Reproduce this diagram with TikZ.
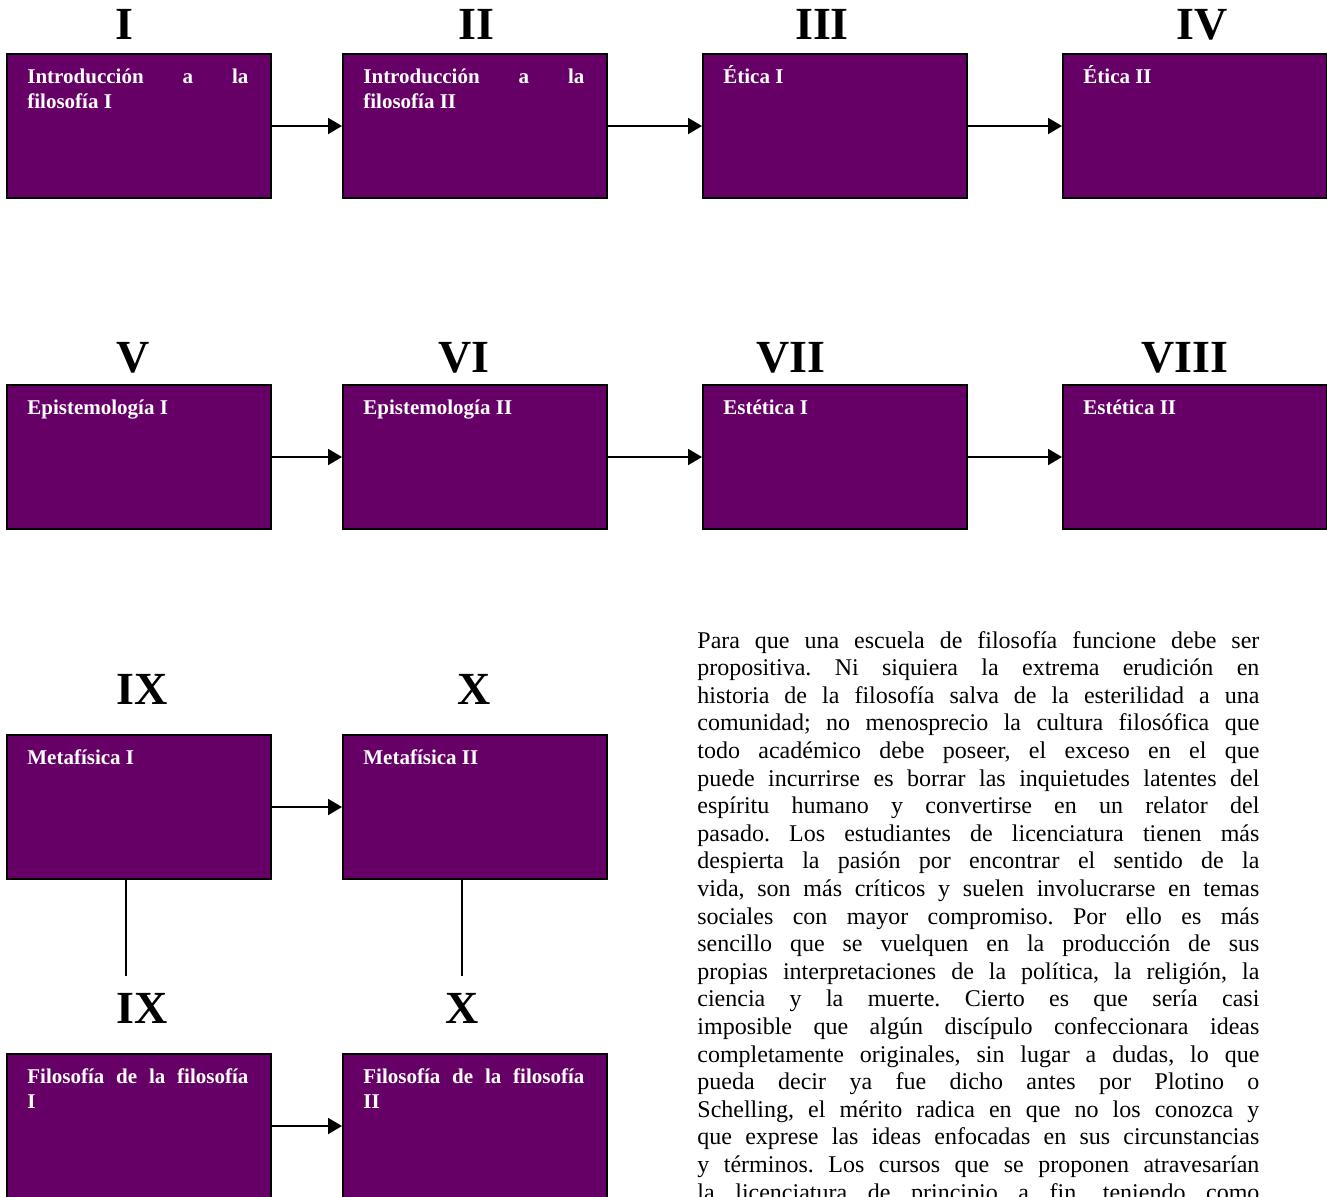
\documentclass[tikz,border=0pt]{standalone}
\usepackage{fontspec}
\setmainfont{Liberation Serif}
\usepackage{tikz}
\usetikzlibrary{arrows.meta, positioning, calc}
\frenchspacing
\definecolor{cursomorado}{RGB}{102, 0, 102}
\tikzset{
    curso/.style={rectangle, draw=black, line width=1pt, fill=cursomorado, minimum width=132pt, minimum height=72pt, inner sep=0pt, anchor=north west},
    rotulo/.style={text=white, font=\fontsize{10.5}{12.5}\selectfont\bfseries, text width=110.5pt, align=justify, inner sep=0pt, anchor=base west},
    numeral/.style={font=\fontsize{23}{26}\selectfont\bfseries, inner sep=0pt, anchor=base},
    flecha/.style={draw, -{Triangle[length=7pt, width=8pt]}, black, line width=1pt},
    linea/.style={draw, black, line width=1pt}
}

\begin{document}
\begin{tikzpicture}[x=0.5pt, y=-0.5pt]
        \useasboundingbox (0,0) rectangle (1327,1196);
        \clip (0,0) rectangle (1327,1196);

        % Semester numerals
        \node[numeral] (n1) at (124,39) {I};
        \node[numeral] (n2) at (476,39) {II};
        \node[numeral] (n3) at (822,39) {III};
        \node[numeral] (n4) at (1202,39) {IV};
        \node[numeral] (n5) at (133,372) {V};
        \node[numeral] (n6) at (464,372) {VI};
        \node[numeral] (n7) at (791,372) {VII};
        \node[numeral] (n8) at (1185,372) {VIII};
        \node[numeral] (n9) at (142,704) {IX};
        \node[numeral] (n10) at (474,704) {X};
        \node[numeral] (n11) at (142,1023) {IX};
        \node[numeral] (n12) at (462,1023) {X};

        % Course boxes
        \node[curso] (c1) at (6,53) {};
        \node[rotulo] (t1) at ([shift={(21,30)}]c1.north west) {Introducción a la\linebreak filosofía I};
        \node[curso] (c2) at (342,53) {};
        \node[rotulo] (t2) at ([shift={(21,30)}]c2.north west) {Introducción a la\linebreak filosofía II};
        \node[curso] (c3) at (702,53) {};
        \node[rotulo] (t3) at ([shift={(21,30)}]c3.north west) {Ética I};
        \node[curso] (c4) at (1062,53) {};
        \node[rotulo] (t4) at ([shift={(21,30)}]c4.north west) {Ética II};

        \node[curso] (c5) at (6,384) {};
        \node[rotulo] (t5) at ([shift={(21,30)}]c5.north west) {Epistemología I};
        \node[curso] (c6) at (342,384) {};
        \node[rotulo] (t6) at ([shift={(21,30)}]c6.north west) {Epistemología II};
        \node[curso] (c7) at (702,384) {};
        \node[rotulo] (t7) at ([shift={(21,30)}]c7.north west) {Estética I};
        \node[curso] (c8) at (1062,384) {};
        \node[rotulo] (t8) at ([shift={(21,30)}]c8.north west) {Estética II};

        \node[curso] (c9) at (6,734) {};
        \node[rotulo] (t9) at ([shift={(21,30)}]c9.north west) {Metafísica I};
        \node[curso] (c10) at (342,734) {};
        \node[rotulo] (t10) at ([shift={(21,30)}]c10.north west) {Metafísica II};

        \node[curso] (c11) at (6,1053) {};
        \node[rotulo] (t11) at ([shift={(21,30)}]c11.north west) {Filosofía de la filosofía\linebreak I};
        \node[curso] (c12) at (342,1053) {};
        \node[rotulo] (t12) at ([shift={(21,30)}]c12.north west) {Filosofía de la filosofía\linebreak II};

        % Arrows between semesters
        \draw[flecha] (c1) -- (c2);
        \draw[flecha] (c2) -- (c3);
        \draw[flecha] (c3) -- (c4);
        \draw[flecha] (c5) -- (c6);
        \draw[flecha] (c6) -- (c7);
        \draw[flecha] (c7) -- (c8);
        \draw[flecha] (c9) -- (c10);
        \draw[flecha] (c11) -- (c12);

        % Plain links down to the last row
        \coordinate (v9) at (126,976);
        \coordinate (v10) at (462,976);
        \draw[linea] (c9.south -| v9) -- (v9);
        \draw[linea] (c10.south -| v10) -- (v10);

        % Side text
        \node[anchor=base west, text width=281pt, align=justify, inner sep=0pt, font=\fontsize{12}{13.8}\selectfont] (texto) at (697,648) {Para que una escuela de filosofía funcione debe ser\linebreak
propositiva. Ni siquiera la extrema erudición en\linebreak
historia de la filosofía salva de la esterilidad a una\linebreak
comunidad; no menosprecio la cultura filosófica que\linebreak
todo académico debe poseer, el exceso en el que\linebreak
puede incurrirse es borrar las inquietudes latentes del\linebreak
espíritu humano y convertirse en un relator del\linebreak
pasado. Los estudiantes de licenciatura tienen más\linebreak
despierta la pasión por encontrar el sentido de la\linebreak
vida, son más críticos y suelen involucrarse en temas\linebreak
sociales con mayor compromiso. Por ello es más\linebreak
sencillo que se vuelquen en la producción de sus\linebreak
propias interpretaciones de la política, la religión, la\linebreak
ciencia y la muerte. Cierto es que sería casi\linebreak
imposible que algún discípulo confeccionara ideas\linebreak
completamente originales, sin lugar a dudas, lo que\linebreak
pueda decir ya fue dicho antes por Plotino o\linebreak
Schelling, el mérito radica en que no los conozca y\linebreak
que exprese las ideas enfocadas en sus circunstancias\linebreak
y términos. Los cursos que se proponen atravesarían\linebreak
la licenciatura de principio a fin, teniendo como\linebreak
};
    \end{tikzpicture}
\end{document}
